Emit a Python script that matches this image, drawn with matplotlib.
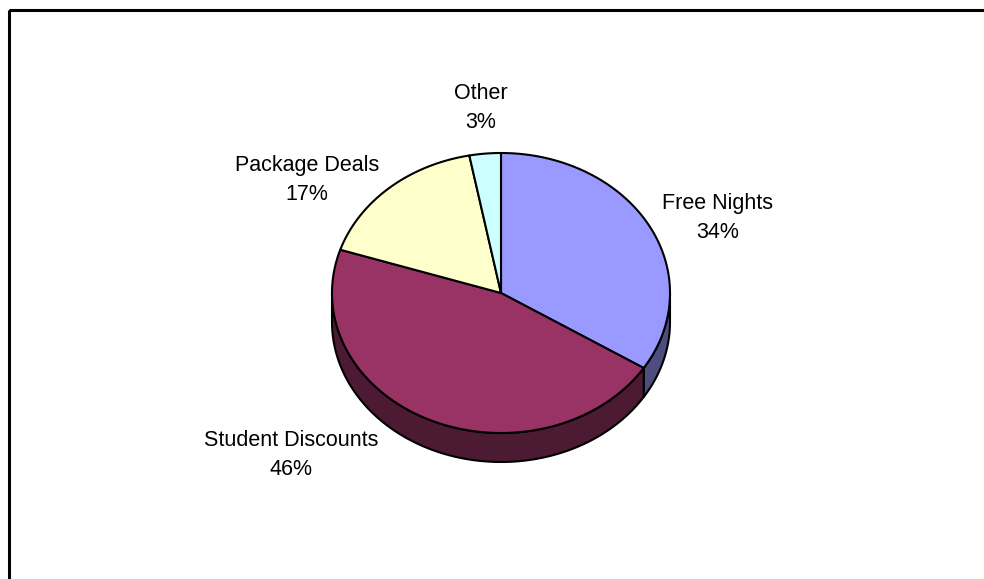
import numpy as np
import matplotlib
matplotlib.use("Agg")
import matplotlib.pyplot as plt
from matplotlib.patches import Polygon, Rectangle

plt.rcParams['font.family'] = ['Liberation Sans', 'DejaVu Sans']

# Data
categories = ["Free Nights", "Student Discounts", "Package Deals", "Other"]
shares = [34, 46, 17, 3]
top_colors = ["#9999FF", "#993366", "#FFFFCC", "#CCFFFF"]
side_colors = ["#4D4D80", "#4D1A33", "#808066", "#668080"]

# Label anchor points (pixel space)
label_pos = [(718, 218), (291, 455), (307, 180), (481, 108)]

W, H = 984, 579
fig = plt.figure(figsize=(W / 100, H / 100), dpi=100)
ax = fig.add_axes([0, 0, 1, 1])
ax.set_xlim(0, W)
ax.set_ylim(H, 0)
ax.axis('off')

# Chart frame (runs off the right and bottom edges)
ax.add_patch(Rectangle((8.5, 9.5), W + 20, H + 20, fill=False,
                       edgecolor='black', linewidth=2.2, zorder=0))

# Pie geometry: tilted disc
cx, cy = 501, 293
rx, ry = 169, 140
depth = 29

def pt(theta_deg, dy=0.0):
    t = np.radians(theta_deg)
    return cx + rx * np.sin(t), cy - ry * np.cos(t) + dy

total = float(sum(shares))
bounds = np.concatenate([[0], np.cumsum(shares)]) / total * 360.0

# Side walls (only the front half, 90..270 degrees, is visible)
for i in range(len(shares)):
    a0, a1 = max(bounds[i], 90), min(bounds[i + 1], 270)
    if a1 <= a0:
        continue
    th = np.linspace(a0, a1, 120)
    top = [pt(t) for t in th]
    bot = [pt(t, depth) for t in th[::-1]]
    ax.add_patch(Polygon(top + bot, closed=True, facecolor=side_colors[i],
                         edgecolor='black', linewidth=1.5, joinstyle='round',
                         zorder=1))

# Top faces
for i in range(len(shares)):
    th = np.linspace(bounds[i], bounds[i + 1], 200)
    verts = [(cx, cy)] + [pt(t) for t in th]
    ax.add_patch(Polygon(verts, closed=True, facecolor=top_colors[i],
                         edgecolor='black', linewidth=1.5, joinstyle='round',
                         zorder=2))

# Category labels with percentages
for name, val, (lx, ly) in zip(categories, shares, label_pos):
    ax.text(lx, ly, f"{name}\n{val}%", ha='center', va='center',
            fontsize=15.5, color='black', linespacing=1.5, zorder=3)

fig.savefig("out.png", dpi=100)
